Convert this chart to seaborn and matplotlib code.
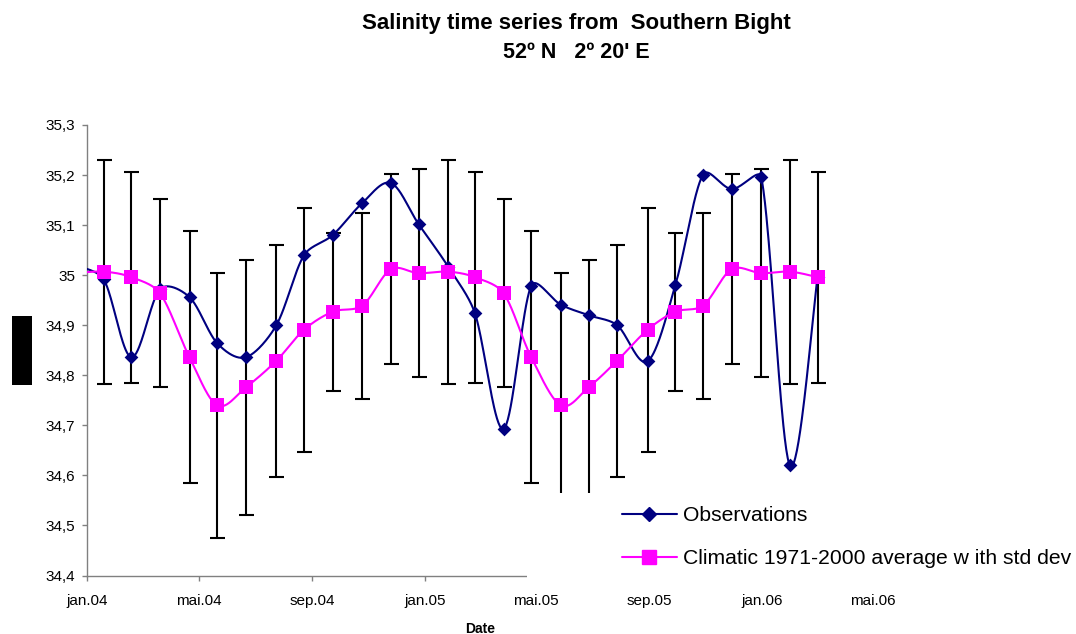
import numpy as np
import pandas as pd
import matplotlib
matplotlib.use('Agg')
import matplotlib.pyplot as plt
import matplotlib.dates as mdates
from matplotlib.lines import Line2D
from matplotlib.patches import Rectangle
import seaborn as sns

# monthly sampling dates (first one sits just left of the axis and gets clipped)
dates = ['2003-12-19', '2004-01-19', '2004-02-18', '2004-03-20', '2004-04-21',
         '2004-05-21', '2004-06-21', '2004-07-24', '2004-08-23', '2004-09-23',
         '2004-10-25', '2004-11-25', '2004-12-25', '2005-01-26', '2005-02-24',
         '2005-03-27', '2005-04-26', '2005-05-28', '2005-06-27', '2005-07-28',
         '2005-08-30', '2005-09-29', '2005-10-29', '2005-11-29', '2005-12-31',
         '2006-01-31', '2006-03-02']

observations = [35.020, 34.992, 34.836, 34.972, 34.956, 34.864, 34.836, 34.900,
                35.040, 35.080, 35.144, 35.184, 35.102, 35.017, 34.924, 34.693,
                34.979, 34.941, 34.920, 34.900, 34.828, 34.980, 35.201, 35.172,
                35.196, 34.620, 34.997]

climate_mean = [35.004, 35.007, 34.996, 34.964, 34.836, 34.740, 34.776, 34.829,
                34.891, 34.927, 34.939, 35.012, 35.004, 35.007, 34.996, 34.964,
                34.836, 34.740, 34.776, 34.829, 34.891, 34.927, 34.939, 35.012,
                35.004, 35.007, 34.996]

climate_std = [0.208, 0.224, 0.211, 0.188, 0.252, 0.265, 0.255, 0.232,
               0.244, 0.158, 0.186, 0.190, 0.208, 0.224, 0.211, 0.188,
               0.252, 0.265, 0.255, 0.232, 0.244, 0.158, 0.186, 0.190,
               0.208, 0.224, 0.211]

tick_dates = ['2004-01-01', '2004-05-01', '2004-09-01', '2005-01-01',
              '2005-05-01', '2005-09-01', '2006-01-01', '2006-05-01']
tick_labels = ['jan.04', 'mai.04', 'sep.04', 'jan.05', 'mai.05', 'sep.05', 'jan.06', 'mai.06']

y_ticks = [34.4, 34.5, 34.6, 34.7, 34.8, 34.9, 35.0, 35.1, 35.2, 35.3]
y_labels = ['34,4', '34,5', '34,6', '34,7', '34,8', '34,9', '35', '35,1', '35,2', '35,3']

NAVY = '#000080'
PINK = '#FF00FF'

W, H = 1076, 634
X_MIN, X_MAX = pd.Timestamp('2004-01-01'), pd.Timestamp('2006-05-01')
Y_MIN, Y_MAX = 34.4, 35.3
AX_W, AX_H = 786, 450.5


def smooth(x, y, n=40):
    # Excel style smoothed line: Bezier segments with Catmull-Rom control points,
    # handles shortened when a neighbouring segment is short (done in pixel space)
    sx = AX_W / (mdates.date2num(X_MAX) - mdates.date2num(X_MIN))
    sy = AX_H / (Y_MAX - Y_MIN)
    p = np.column_stack([np.asarray(x) * sx, np.asarray(y) * sy]).astype(float)
    p_ext = np.vstack([p[0], p, p[-1]])
    tang = (p_ext[2:] - p_ext[:-2]) / 6
    t = np.linspace(0, 1, n)[:, None]
    out = []
    for i in range(len(p) - 1):
        p1, p2 = p[i], p[i + 1]
        seg_len = np.hypot(*(p2 - p1))
        t1, t2 = tang[i], tang[i + 1]
        lim = seg_len / 3
        n1, n2 = np.hypot(*t1), np.hypot(*t2)
        if n1 > lim:
            t1 = t1 * lim / n1
        if n2 > lim:
            t2 = t2 * lim / n2
        b1 = p1 + t1
        b2 = p2 - t2
        seg = ((1 - t) ** 3) * p1 + 3 * ((1 - t) ** 2) * t * b1 + 3 * (1 - t) * t ** 2 * b2 + t ** 3 * p2
        out.append(seg if i == 0 else seg[1:])
    out = np.vstack(out)
    return out[:, 0] / sx, out[:, 1] / sy


sns.set_style('white')
plt.rcParams['font.family'] = ['Liberation Sans', 'DejaVu Sans']
plt.rcParams['text.color'] = 'black'
plt.rcParams['axes.labelcolor'] = 'black'

fig = plt.figure(figsize=(W / 100, H / 100), dpi=100)
ax = fig.add_axes([87 / W, (H - 575.5) / H, AX_W / W, AX_H / H])

x = mdates.date2num(pd.to_datetime(dates))

ax.errorbar(x, climate_mean, yerr=climate_std, fmt='none', ecolor='black',
            elinewidth=1.5, capsize=5.4, capthick=1.5, zorder=2)

xs, ys = smooth(x, observations)
sns.lineplot(x=xs, y=ys, sort=False, estimator=None, color=NAVY, lw=1.5, ax=ax, zorder=3)
sns.scatterplot(x=x, y=observations, marker='D', s=49, color=NAVY, edgecolor=NAVY,
                linewidth=0, ax=ax, zorder=3.1)

xs, ys = smooth(x, climate_mean)
sns.lineplot(x=xs, y=ys, sort=False, estimator=None, color=PINK, lw=1.5, ax=ax, zorder=3.2)
sns.scatterplot(x=x, y=climate_mean, marker='s', s=92, color=PINK, edgecolor=PINK,
                linewidth=0, ax=ax, zorder=3.3)

ax.set_xlim(mdates.date2num(X_MIN), mdates.date2num(X_MAX))
ax.set_ylim(Y_MIN, Y_MAX)
ax.set_xticks(mdates.date2num(pd.to_datetime(tick_dates)))
ax.set_xticklabels(tick_labels)
ax.set_yticks(y_ticks)
ax.set_yticklabels(y_labels)
ax.tick_params(axis='both', bottom=True, left=True, direction='out', length=3.5,
               width=1, color='#808080', labelsize=11, labelcolor='black')
ax.tick_params(axis='x', pad=10)
ax.tick_params(axis='y', pad=5)
sns.despine(ax=ax)
for side in ['left', 'bottom']:
    ax.spines[side].set_color('#808080')
    ax.spines[side].set_linewidth(1)
ax.set_xlabel('Date', fontsize=10, fontweight='bold', labelpad=10)
ax.set_ylabel('')

# legend area has a white background that hides the end of the axis
cover = Rectangle((527 / W, (H - 588) / H), (W - 527) / W, 95 / H, transform=fig.transFigure,
                  facecolor='white', edgecolor='none', zorder=4, clip_on=False)
ax.add_artist(cover)

handles = [Line2D([], [], color=NAVY, lw=1.5, marker='D', ms=7),
           Line2D([], [], color=PINK, lw=1.5, marker='s', ms=9.6)]
fig.legend(handles, ['Observations', 'Climatic 1971-2000 average w ith std dev'],
           loc='upper left', bbox_to_anchor=(622 / W, (H - 506) / H), frameon=False,
           fontsize=15.2, handlelength=2.6, handletextpad=0.29, labelspacing=1.15,
           borderpad=0, borderaxespad=0)

fig.text(576 / W, 1 - 23 / H, 'Salinity time series from  Southern Bight', ha='center',
         va='center', fontsize=16, fontweight='bold')
fig.text(576 / W, 1 - 53 / H, "52º N   2º 20' E", ha='center', va='center',
         fontsize=15.5, fontweight='bold')

# black box over the y axis title
fig.add_artist(Rectangle((12 / W, 1 - 385 / H), 20 / W, 69 / H, transform=fig.transFigure,
                         facecolor='black', edgecolor='none'))

fig.savefig('out.png', dpi=100)
